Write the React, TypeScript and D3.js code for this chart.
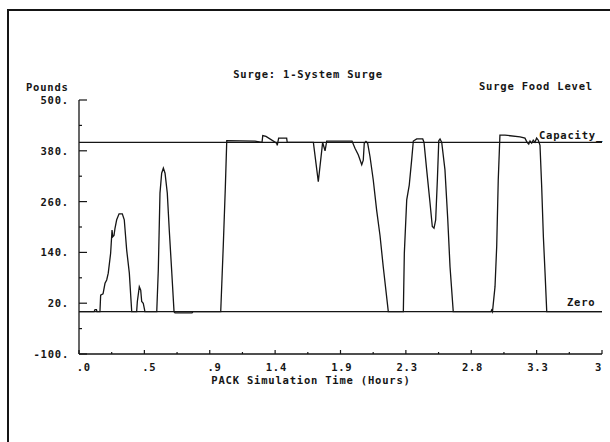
import React, { useRef, useEffect } from "react";
import * as d3 from "d3";

// surge food level
const hours = [
  0, 0.107, 0.114, 0.124, 0.128, 0.149, 0.154, 0.171, 0.185, 0.197, 0.208, 0.225, 0.235, 0.24, 0.249,
  0.256, 0.268, 0.285, 0.308, 0.322, 0.339, 0.358, 0.375, 0.41, 0.415, 0.429, 0.439, 0.446, 0.457,
  0.469, 0.553, 0.564, 0.576, 0.588, 0.6, 0.612, 0.628, 0.642, 0.659, 0.676, 0.683, 0.804, 0.811,
  1.008, 1.026, 1.041, 1.051, 1.252, 1.302, 1.307, 1.33, 1.406, 1.41, 1.42, 1.477, 1.481, 1.667,
  1.702, 1.733, 1.75, 1.762, 1.942, 1.963, 1.987, 2.011, 2.022, 2.029, 2.041, 2.053, 2.07, 2.093,
  2.117, 2.141, 2.164, 2.2, 2.307, 2.314, 2.331, 2.349, 2.366, 2.378, 2.402, 2.445, 2.454, 2.473,
  2.497, 2.513, 2.525, 2.537, 2.549, 2.559, 2.568, 2.58, 2.603, 2.623, 2.639, 2.662, 2.93, 2.935,
  2.941, 2.959, 2.971, 2.982, 2.994, 3.03, 3.137, 3.172, 3.187, 3.199, 3.208, 3.22, 3.231, 3.243,
  3.255, 3.267, 3.274, 3.279, 3.291, 3.303, 3.315, 3.327, 3.72,
];
const pounds = [
  0, 0, 5, 5, 0, 0, 39, 42, 67, 75, 91, 138, 193, 177, 180,
  197, 217, 231, 231, 217, 146, 91, 0, 0, 24, 59, 51, 24, 20,
  0, 0, 98, 280, 327, 339, 327, 280, 193, 98, 0, -3, -3, 0,
  0, 154, 295, 404, 403, 400, 416, 414, 398, 393, 410, 410, 400, 400,
  307, 400, 380, 403, 403, 386, 370, 347, 358, 398, 402, 398, 366, 311,
  240, 180, 106, 0, 0, 138, 264, 299, 358, 403, 408, 408, 400, 335,
  256, 201, 197, 217, 311, 404, 408, 400, 335, 217, 106, 0, 0, 4,
  0, 59, 154, 311, 417, 417, 413, 410, 400, 396, 403, 398, 405, 400,
  410, 405, 398, 393, 295, 177, 91, 0, 0,
];

const yTickValues = [500, 380, 260, 140, 20, -100];
const yTickLabels = ["500.", "380.", "260.", "140.", "20.", "-100."];
const xTickValues = [0, 0.465, 0.93, 1.395, 1.86, 2.325, 2.79, 3.255, 3.72];
const xTickLabels = [".0", ".5", ".9", "1.4", "1.9", "2.3", "2.8", "3.3", "3"];
const capacity = 400;
const zero = 0;

const W = 610;
const H = 442;
const LEFT = 79;
const RIGHT = 602;
const TOP = 100;
const BOTTOM = 354;
const INK = "#151515";
const FONT = "'DejaVu Sans Mono', monospace";

const drawChart = (element: HTMLDivElement) => {
  d3.select(element).selectAll("*").remove();

  const svg = d3
    .select(element)
    .append("svg")
    .attr("width", W)
    .attr("height", H)
    .style("position", "absolute")
    .style("left", "0px")
    .style("top", "0px")
    .style("background", "#fff");

  // page frame (only left and top edges are in view)
  svg.append("path")
    .attr("d", `M8,${H}V10H${W}`)
    .attr("fill", "none").attr("stroke", INK).attr("stroke-width", 2);

  const x = d3.scaleLinear().domain([0, 3.72]).range([LEFT, RIGHT]);
  const y = d3.scaleLinear().domain([-100, 500]).range([BOTTOM, TOP]);

  const txt = (tx: number, ty: number, s: string, anchor = "start") =>
    svg.append("text")
      .attr("x", tx).attr("y", ty)
      .attr("text-anchor", anchor)
      .attr("font-family", FONT)
      .attr("font-weight", "bold")
      .attr("font-size", 10.5)
      .attr("letter-spacing", 0.8)
      .attr("fill", INK)
      .text(s);

  // axes
  svg.append("line").attr("x1", LEFT).attr("x2", LEFT).attr("y1", TOP).attr("y2", BOTTOM)
    .attr("stroke", INK).attr("stroke-width", 1.3);
  svg.append("line").attr("x1", LEFT).attr("x2", RIGHT).attr("y1", BOTTOM).attr("y2", BOTTOM)
    .attr("stroke", INK).attr("stroke-width", 1.3);

  yTickValues.forEach((v, i) => {
    svg.append("line").attr("x1", LEFT).attr("x2", LEFT + 8).attr("y1", y(v)).attr("y2", y(v))
      .attr("stroke", INK).attr("stroke-width", 1.2);
    txt(69, y(v) + 4, yTickLabels[i], "end");
  });
  d3.pairs(yTickValues).forEach(([a, b]) => {
    const m = y((a + b) / 2);
    svg.append("line").attr("x1", LEFT).attr("x2", LEFT + 3).attr("y1", m).attr("y2", m)
      .attr("stroke", INK).attr("stroke-width", 1.2);
  });

  xTickValues.forEach((v, i) => {
    svg.append("line").attr("x1", x(v)).attr("x2", x(v)).attr("y1", BOTTOM).attr("y2", BOTTOM - 4)
      .attr("stroke", INK).attr("stroke-width", 1.2);
    const last = i === xTickValues.length - 1;
    txt(last ? x(v) : x(v) + 12, 371, xTickLabels[i], "end");
  });
  d3.pairs(xTickValues).forEach(([a, b]) => {
    const m = x((a + b) / 2);
    svg.append("line").attr("x1", m).attr("x2", m).attr("y1", BOTTOM).attr("y2", BOTTOM - 2)
      .attr("stroke", INK).attr("stroke-width", 1.2);
  });

  // reference lines
  [capacity, zero].forEach(v => {
    svg.append("line").attr("x1", LEFT).attr("x2", RIGHT).attr("y1", y(v)).attr("y2", y(v))
      .attr("stroke", INK).attr("stroke-width", 1.2);
  });

  const line = d3.line<number>()
    .x((_, i) => x(hours[i]))
    .y(d => y(d));

  svg.append("path")
    .datum(pounds)
    .attr("d", line)
    .attr("fill", "none")
    .attr("stroke", INK)
    .attr("stroke-width", 1.3);

  // text
  txt(308, 78, "Surge: 1-System Surge", "middle");
  txt(26, 91, "Pounds");
  txt(479, 90, "Surge Food Level");
  txt(539, 139, "Capacity_");
  txt(567, 306, "Zero");
  txt(311, 384, "PACK Simulation Time (Hours)", "middle");
};

const App = () => {
  const chartRef = useRef<HTMLDivElement>(null);

  useEffect(() => {
    if (chartRef.current) drawChart(chartRef.current);
  }, []);

  return <div ref={chartRef}></div>;
};

export default App;
